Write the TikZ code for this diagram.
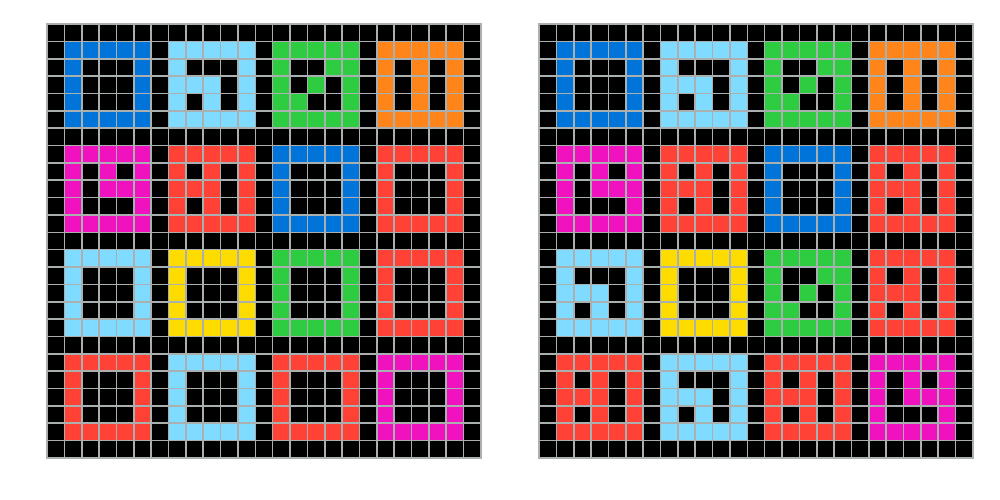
\documentclass[tikz,border=0pt]{standalone}
\definecolor{arcblue}{HTML}{0074D9}
\definecolor{arclight}{HTML}{7FDBFF}
\definecolor{arcgreen}{HTML}{2ECC40}
\definecolor{arcorange}{HTML}{FF851B}
\definecolor{arcmag}{HTML}{F012BE}
\definecolor{arcred}{HTML}{FF4136}
\definecolor{arcyellow}{HTML}{FFDC00}
\definecolor{arcline}{RGB}{170,176,176}
\def\patH{1,1,1,1,1,1,0,0,0,1,1,0,0,0,1,1,0,0,0,1,1,1,1,1,1}
\def\patA{1,1,1,1,1,1,0,0,0,1,1,1,1,0,1,1,0,1,0,1,1,1,1,1,1}
\def\patB{1,1,1,1,1,1,0,0,1,1,1,0,1,0,1,1,1,0,0,1,1,1,1,1,1}
\def\patC{1,1,1,1,1,1,0,1,0,1,1,0,1,0,1,1,0,1,0,1,1,1,1,1,1}
\def\patD{1,1,1,1,1,1,0,1,0,1,1,0,1,1,1,1,0,0,0,1,1,1,1,1,1}
\def\patE{1,1,1,1,1,1,0,1,0,1,1,1,1,0,1,1,0,1,0,1,1,1,1,1,1}
\newcommand\arcblock[4]{%
  \expandafter\let\expandafter\arcplist\csname pat#4\endcsname
  \foreach \v [count=\k from 0] in \arcplist {%
    \ifnum\v=1
      \pgfmathtruncatemacro\cc{1+6*#1+mod(\k,5)}%
      \pgfmathtruncatemacro\rr{1+6*#2+div(\k,5)}%
      \fill[#3] (\cc,\rr) rectangle ++(1,1);
    \fi
  }%
}
\newcommand\arcgrid[2]{%
  \begin{scope}[xshift=#1pt, yshift=-24pt, x=17.36pt, y=-17.36pt]
    \fill[black] (0,0) rectangle (25,25);
    \foreach \bx/\by/\bc/\bp in {#2} {\arcblock{\bx}{\by}{\bc}{\bp}}
    \foreach \i in {0,...,25} {
      \draw[gridln] (\i,0) -- (\i,25);
      \draw[gridln] (0,\i) -- (25,\i);
    }
  \end{scope}%
}
\tikzset{gridln/.style={arcline, line width=1.6pt, line cap=rect}}
\begin{document}
\begin{tikzpicture}
\fill[white] (0pt,0pt) rectangle (1000pt,-500pt);
\useasboundingbox (0pt,0pt) rectangle (1000pt,-500pt);
\arcgrid{47}{0/0/arcblue/H, 1/0/arclight/A, 2/0/arcgreen/B, 3/0/arcorange/C,
  0/1/arcmag/D, 1/1/arcred/E, 2/1/arcblue/H, 3/1/arcred/H,
  0/2/arclight/H, 1/2/arcyellow/H, 2/2/arcgreen/H, 3/2/arcred/H,
  0/3/arcred/H, 1/3/arclight/H, 2/3/arcred/H, 3/3/arcmag/H}
\arcgrid{539}{0/0/arcblue/H, 1/0/arclight/A, 2/0/arcgreen/B, 3/0/arcorange/C,
  0/1/arcmag/D, 1/1/arcred/E, 2/1/arcblue/H, 3/1/arcred/E,
  0/2/arclight/A, 1/2/arcyellow/H, 2/2/arcgreen/B, 3/2/arcred/E,
  0/3/arcred/E, 1/3/arclight/A, 2/3/arcred/E, 3/3/arcmag/D}
\end{tikzpicture}
\end{document}
